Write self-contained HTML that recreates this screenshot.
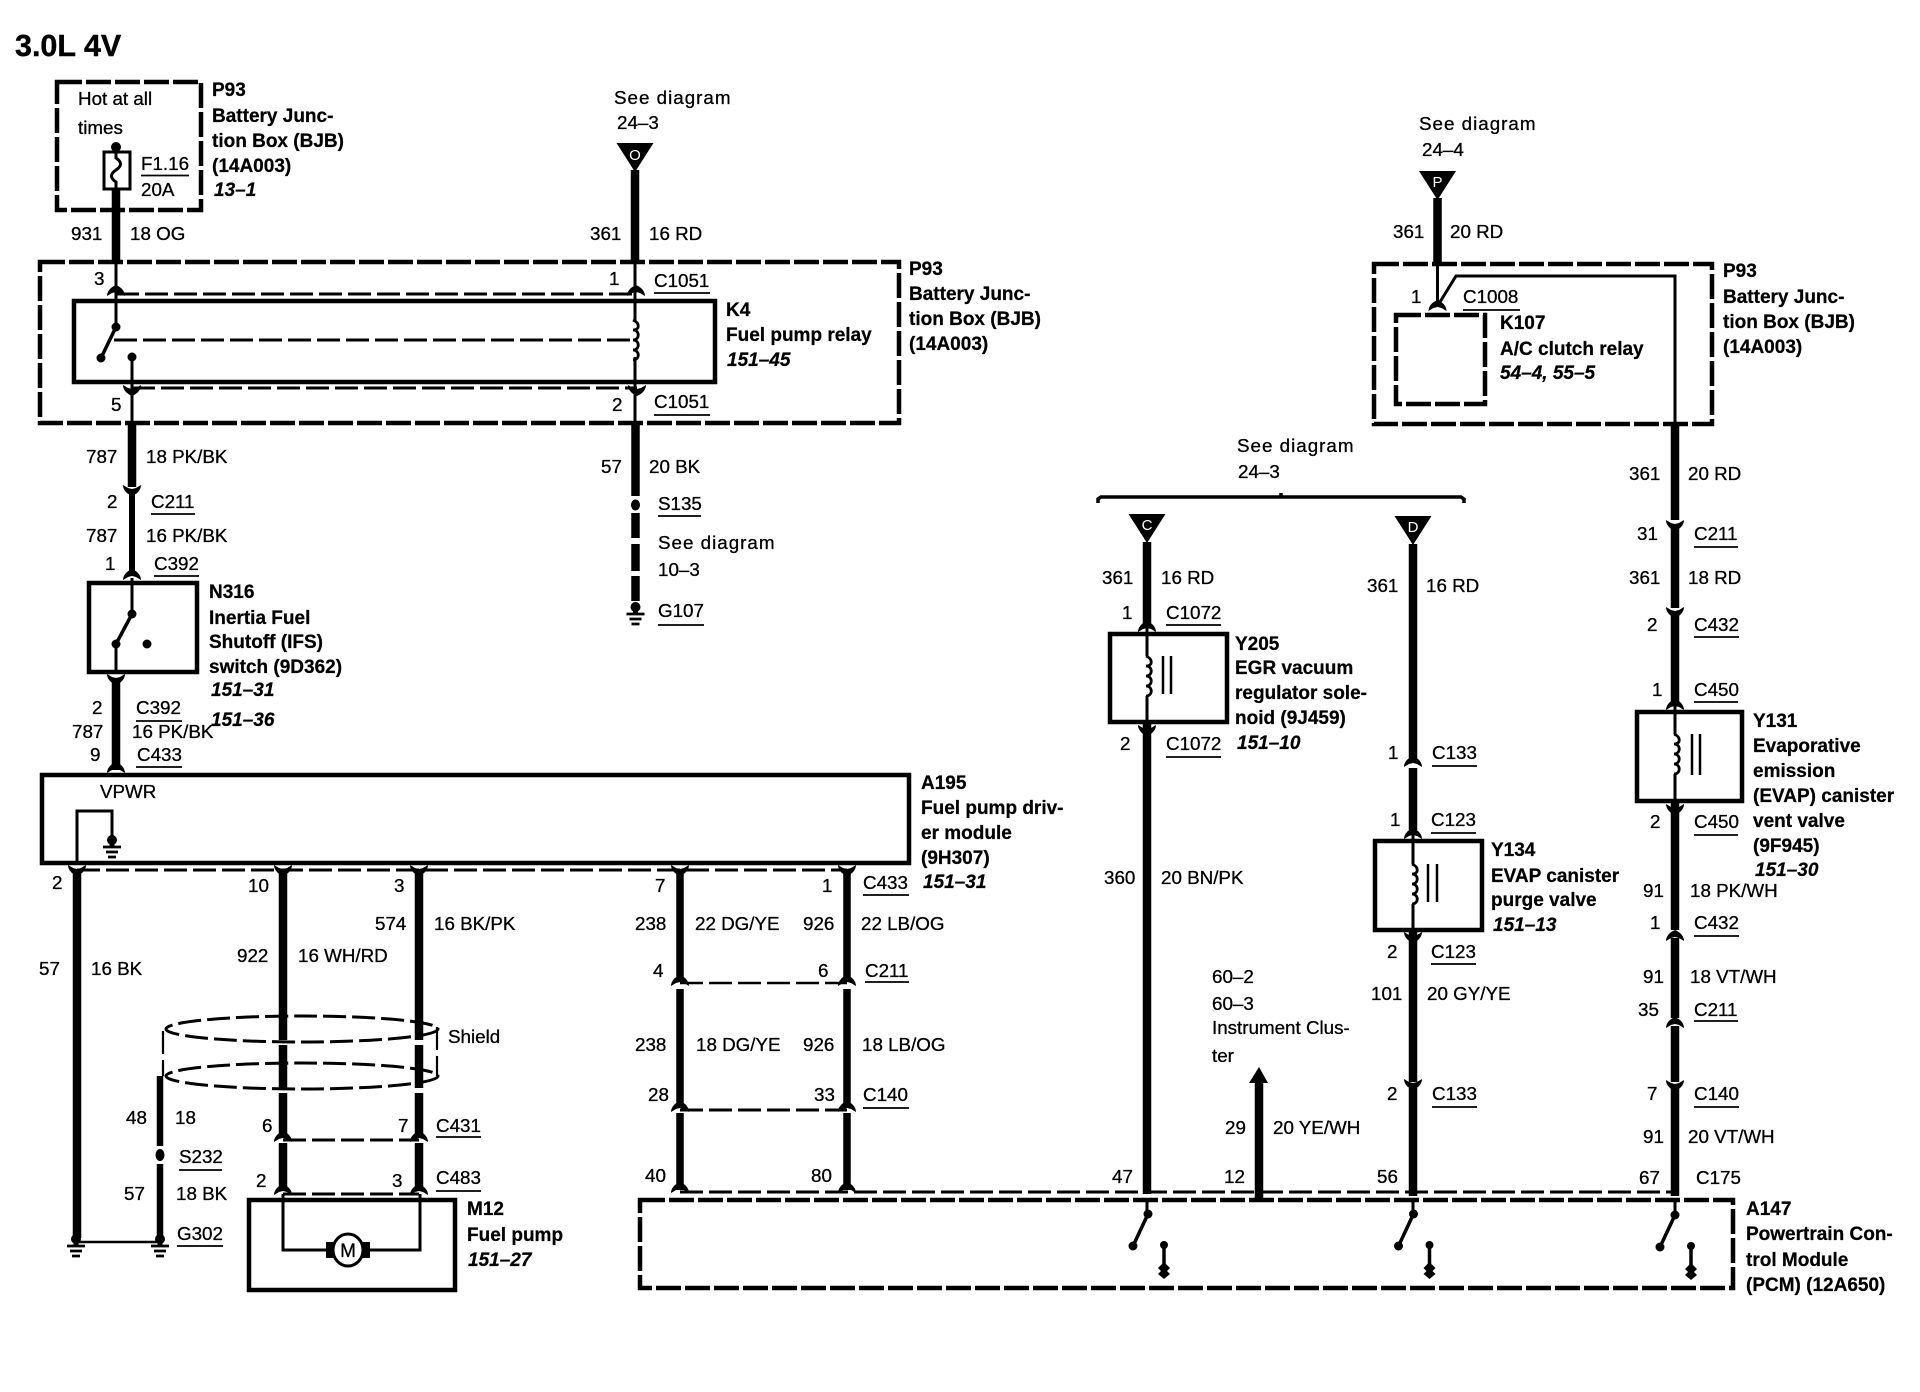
<!DOCTYPE html>
<html><head><meta charset="utf-8"><title>3.0L 4V</title>
<style>
html,body{margin:0;padding:0;background:#fff}
svg{display:block}
text{font-family:"Liberation Sans",sans-serif;font-size:18.8px;fill:#000;stroke:#000;stroke-width:.3px}
.b{font-weight:bold;font-size:19px;stroke-width:.25px}
.i{font-weight:bold;font-style:italic;font-size:19px;stroke-width:.25px}
.w{fill:#fff;stroke:none;font-size:15px;text-anchor:middle}
.h{font-weight:bold;font-size:30.5px;stroke-width:.4px}
.s{letter-spacing:1px}
.wire{stroke:#000;fill:none;stroke-width:8.5}
.w6{stroke:#000;fill:none;stroke-width:7.5}
.thin{stroke:#000;fill:none;stroke-width:3}
.box{stroke:#000;fill:none;stroke-width:4.5}
.dash{stroke:#000;fill:none;stroke-width:4.5;stroke-dasharray:25 4}
.dash2{stroke:#000;fill:none;stroke-width:3;stroke-dasharray:23 6}
.ul{stroke:#000;fill:none;stroke-width:1.8}
</style></head><body>
<svg width="1920" height="1392" viewBox="0 0 1920 1392" xmlns="http://www.w3.org/2000/svg">
<defs>
<path id="up" d="M-9,5 C-9,0 -5,-4 0,-6 C5,-4 9,0 9,5 L4,2 L0,1 L-4,2z" fill="#000"/>
<path id="dn" d="M-9,-5 C-9,0 -5,4 0,6 C5,4 9,0 9,-5 L4,-2 L0,-1 L-4,-2z" fill="#000"/>
<g id="gnd"><path d="M0,-8V2" stroke="#000" stroke-width="5"/><circle cy="-4" r="5" fill="#000"/><path d="M-9,3H9M-6,8H6M-4,13H4" stroke="#000" stroke-width="2.8"/></g>
<path id="coil" d="M0,0 c7,3 7,10 0,10 c7,0 7,10 0,10 c7,0 7,10 0,10 c7,0 7,10 0,10" fill="none" stroke="#000" stroke-width="2.8"/>
<g id="pcmsw"><circle r="4.5" fill="#000"/><path d="M0,0L-15,32" stroke="#000" stroke-width="3.5"/><circle cx="-15" cy="32" r="4.5" fill="#000"/><circle cx="16" cy="31" r="4" fill="#000"/><path d="M16,31V56" stroke="#000" stroke-width="3.5"/><path d="M10,54L16,48L22,54L19,57L22,60L16,65L10,60L13,57z" fill="#000"/></g>
<g id="tri"><path d="M-18.5,0H18.5L0,29z" fill="#000"/></g>
</defs>
<rect width="1920" height="1392" fill="#fff"/>

<text class="h" x="15" y="56">3.0L 4V</text>

<!-- top left fuse box -->
<rect class="dash" x="57" y="82" width="144" height="128"/>
<rect class="thin" x="104" y="152" width="26" height="37"/>
<circle cx="116" cy="147" r="5" fill="#000"/>
<path class="thin" d="M116,147V158c6,4 6,8 0,12c-6,4 -6,8 0,12V189"/>
<path class="wire" d="M116,189V261"/>
<path class="ul" d="M141,175.500H189"/>
<text x="78" y="105">Hot at all</text><text x="78" y="134">times</text>
<text x="141" y="170">F1.16</text><text x="141" y="196">20A</text>
<text class="b" x="212" y="96">P93</text><text class="b" x="212" y="122">Battery Junc-</text><text class="b" x="212" y="147">tion Box (BJB)</text><text class="b" x="212" y="172">(14A003)</text><text class="i" x="214" y="196">13–1</text>
<text class="s" x="614" y="104">See diagram</text><text x="617" y="129">24–3</text>
<use href="#tri" x="635" y="143"/><text class="w" x="635" y="160">O</text>
<path class="wire" d="M635,170V261"/>
<text x="71" y="240">931</text><text x="130" y="240">18 OG</text><text x="590" y="240">361</text><text x="649" y="240">16 RD</text>

<!-- relay K4 -->
<rect class="dash" x="40" y="262" width="859" height="161"/>
<rect class="box" x="74" y="301" width="641" height="81"/>
<path class="thin" d="M116,261V327M635,261V321M635,357V423M132,357V423"/>
<use href="#up" x="116" y="291"/><use href="#up" x="636" y="291"/>
<path class="dash2" d="M116,294H635M132,388H637"/>
<use href="#dn" x="132" y="390"/><use href="#dn" x="637" y="390"/>
<circle cx="116" cy="327" r="4.500" fill="#000"/><circle cx="101" cy="358" r="4.500" fill="#000"/><circle cx="132" cy="357" r="4.500" fill="#000"/>
<path d="M116,327L101,358" stroke="#000" stroke-width="3.5"/>
<path class="dash2" d="M114,340H631"/>
<use href="#coil" x="633" y="320"/>
<text x="94" y="285">3</text><text x="609" y="285">1</text><text x="654" y="287">C1051</text><path class="ul" d="M654,293H710M654,415H710"/>
<text x="111" y="411">5</text><text x="612" y="411">2</text><text x="654" y="408">C1051</text>
<text class="b" x="726" y="316">K4</text><text class="b" x="726" y="341">Fuel pump relay</text><text class="i" x="727" y="366">151–45</text>
<text class="b" x="909" y="275">P93</text><text class="b" x="909" y="300">Battery Junc-</text><text class="b" x="909" y="325">tion Box (BJB)</text><text class="b" x="909" y="350">(14A003)</text>

<!-- 787 run -->
<path class="wire" d="M132,423V487"/><use href="#dn" x="132" y="490"/>
<path class="w6" style="stroke-width:6" d="M132,490V574"/><use href="#up" x="132" y="575"/>
<text x="86" y="463">787</text><text x="146" y="463">18 PK/BK</text>
<text x="107" y="508">2</text><text x="151" y="508">C211</text><path class="ul" d="M151,514H195M154,576H199"/>
<text x="86" y="542">787</text><text x="146" y="542">16 PK/BK</text>
<text x="105" y="570">1</text><text x="154" y="570">C392</text>
<rect class="box" x="89" y="583" width="108" height="89"/>
<path class="thin" d="M132,578V614M116,644V672"/><path d="M132,614L116,644" stroke="#000" stroke-width="3.5"/>
<circle cx="132" cy="614" r="4.500" fill="#000"/><circle cx="116" cy="644" r="4.500" fill="#000"/><circle cx="147" cy="644" r="4.500" fill="#000"/>
<text class="b" x="209" y="598">N316</text><text class="b" x="209" y="624">Inertia Fuel</text><text class="b" x="209" y="648">Shutoff (IFS)</text><text class="b" x="209" y="673">switch (9D362)</text><text class="i" x="211" y="696">151–31</text><text class="i" x="211" y="726">151–36</text>
<use href="#dn" x="116" y="679"/><path class="wire" d="M116,678V770"/><use href="#up" x="116" y="768"/>
<text x="92" y="714">2</text><text x="136" y="714">C392</text><path class="ul" d="M136,721H182M136,767H182"/>
<text x="72" y="738">787</text><text x="132" y="738">16 PK/BK</text><text x="90" y="761">9</text><text x="137" y="761">C433</text>

<!-- A195 -->
<rect class="box" x="42" y="775" width="867" height="88"/>
<text x="100" y="798">VPWR</text>
<path class="thin" d="M77,863V811H112V842"/><use href="#gnd" x="112" y="844"/>
<text class="b" x="921" y="789">A195</text><text class="b" x="921" y="814">Fuel pump driv-</text><text class="b" x="921" y="839">er module</text><text class="b" x="921" y="864">(9H307)</text><text class="i" x="923" y="888">151–31</text>
<path class="dash2" d="M77,870H847"/>
<use href="#dn" x="77" y="870"/><use href="#dn" x="283" y="870"/><use href="#dn" x="419" y="870"/><use href="#dn" x="680" y="870"/><use href="#dn" x="847" y="870"/>
<path class="wire" d="M77,870V1238"/>
<path class="wire" d="M283,870V1040M283,1045V1088M283,1093V1134M283,1143V1190"/>
<path class="wire" d="M419,870V1040M419,1045V1088M419,1093V1134M419,1143V1190"/>
<path class="w6" d="M680,870V978M680,989V1103M680,1113V1190"/>
<path class="w6" d="M847,870V978M847,989V1103M847,1113V1190"/>
<use href="#up" x="680" y="981"/><use href="#up" x="847" y="981"/><use href="#up" x="680" y="1107"/><use href="#up" x="847" y="1107"/>
<use href="#up" x="283" y="1137"/><use href="#up" x="419" y="1137"/><use href="#up" x="283" y="1190"/><use href="#up" x="419" y="1190"/><use href="#up" x="680" y="1188"/><use href="#up" x="847" y="1188"/>
<path class="dash2" style="stroke-width:2.4" d="M680,983H847"/><path class="dash2" d="M680,1110H847M283,1140H419M283,1194H419"/>
<text x="52" y="889">2</text><text x="248" y="892">10</text><text x="394" y="892">3</text><text x="655" y="892">7</text><text x="822" y="892">1</text><text x="863" y="889">C433</text><path class="ul" d="M863,895H909M865,982H909M863,1108H909M436,1137H481M436,1191H481M179,1170H222M177,1246H223"/>
<text x="375" y="930">574</text><text x="434" y="930">16 BK/PK</text><text x="635" y="930">238</text><text x="695" y="930">22 DG/YE</text><text x="803" y="930">926</text><text x="861" y="930">22 LB/OG</text>
<text x="237" y="962">922</text><text x="298" y="962">16 WH/RD</text><text x="39" y="975">57</text><text x="91" y="975">16 BK</text>
<text x="653" y="977">4</text><text x="818" y="977">6</text><text x="865" y="977">C211</text>
<text x="635" y="1051">238</text><text x="696" y="1051">18 DG/YE</text><text x="803" y="1051">926</text><text x="862" y="1051">18 LB/OG</text>
<text x="648" y="1101">28</text><text x="814" y="1101">33</text><text x="863" y="1101">C140</text>
<text x="645" y="1182">40</text><text x="811" y="1182">80</text>

<!-- shield -->
<ellipse class="dash2" cx="302" cy="1029" rx="136" ry="13"/>
<ellipse class="dash2" cx="302" cy="1076" rx="136" ry="13"/>
<path class="dash2" style="stroke-width:2.2" d="M163,1031V1076M437,1027V1076"/>
<text x="448" y="1043">Shield</text>
<path class="w6" style="stroke-width:6.5" d="M160,1076V1146M160,1164V1238"/><ellipse cx="160" cy="1155" rx="4.500" ry="6" fill="#000"/>
<text x="126" y="1124">48</text><text x="175" y="1124">18</text><text x="179" y="1163">S232</text><text x="124" y="1200">57</text><text x="176" y="1200">18 BK</text><text x="177" y="1240">G302</text>
<path d="M75,1242H160" stroke="#000" stroke-width="2.5"/>
<use href="#gnd" x="76" y="1243"/><use href="#gnd" x="160" y="1243"/>
<text x="262" y="1132">6</text><text x="398" y="1132">7</text><text x="436" y="1132">C431</text><text x="256" y="1187">2</text><text x="392" y="1187">3</text><text x="436" y="1184">C483</text>

<!-- M12 -->
<rect class="box" x="249" y="1200" width="206" height="90"/>
<path class="thin" d="M283,1194V1250H326M420,1194V1250H370"/>
<rect x="326" y="1242" width="9" height="16" fill="#000"/><rect x="361" y="1242" width="9" height="16" fill="#000"/>
<ellipse cx="348" cy="1250" rx="15" ry="16" fill="#fff" stroke="#000" stroke-width="3"/>
<text x="348" y="1257" style="text-anchor:middle;font-size:19px">M</text>
<text class="b" x="467" y="1215">M12</text><text class="b" x="467" y="1241">Fuel pump</text><text class="i" x="468" y="1266">151–27</text>

<!-- 57 / G107 -->
<path class="wire" d="M635.500,423V496M635.500,513V538M635.500,544V571M635.500,576V601"/>
<ellipse cx="635.500" cy="505" rx="4.500" ry="5.500" fill="#000"/>
<use href="#gnd" x="635.500" y="611"/>
<text x="601" y="473">57</text><text x="649" y="473">20 BK</text><text x="658" y="510">S135</text><path class="ul" d="M658,516H701M658,625H704"/>
<text class="s" x="658" y="549">See diagram</text><text x="658" y="576">10–3</text><text x="658" y="617">G107</text>

<!-- PCM -->
<rect class="dash" x="640" y="1200" width="1093" height="88"/>
<path class="dash2" d="M680,1192H1676"/>
<path class="thin" d="M1147,1199V1214M1413,1199V1214M1675,1199V1214"/>
<use href="#pcmsw" x="1148" y="1214"/><use href="#pcmsw" x="1413.500" y="1214"/><use href="#pcmsw" x="1675" y="1215"/>
<text class="b" x="1746" y="1215">A147</text><text class="b" x="1746" y="1240">Powertrain Con-</text><text class="b" x="1746" y="1266">trol Module</text><text class="b" x="1746" y="1291">(PCM) (12A650)</text>
<text x="1112" y="1183">47</text><text x="1224" y="1183">12</text><text x="1377" y="1183">56</text><text x="1639" y="1184">67</text><text x="1696" y="1184">C175</text>

<!-- upper right P93 -->
<text class="s" x="1419" y="130">See diagram</text><text x="1422" y="156">24–4</text>
<use href="#tri" x="1437.500" y="171"/><text class="w" x="1437.500" y="187">P</text>
<path class="wire" d="M1437.500,198V263"/>
<text x="1393" y="238">361</text><text x="1450" y="238">20 RD</text>
<rect class="dash" x="1374" y="264" width="338" height="160"/>
<rect class="dash" x="1396" y="315" width="89" height="89"/>
<path class="thin" d="M1437.500,263V305M1437.500,306L1456,276H1675V424"/>
<use href="#up" x="1437.500" y="306"/>
<text x="1411" y="303">1</text><text x="1463" y="303">C1008</text><path class="ul" d="M1463,310H1520"/>
<text class="b" x="1500" y="329">K107</text><text class="b" x="1500" y="355">A/C clutch relay</text><text class="i" x="1500" y="379">54–4, 55–5</text>
<text class="b" x="1723" y="277">P93</text><text class="b" x="1723" y="303">Battery Junc-</text><text class="b" x="1723" y="328">tion Box (BJB)</text><text class="b" x="1723" y="353">(14A003)</text>

<!-- brace -->
<text class="s" x="1237" y="452">See diagram</text><text x="1238" y="478">24–3</text>
<path d="M1098,503V499L1101,497H1461L1464,499V503M1281,497V493" fill="none" stroke="#000" stroke-width="3.5"/>
<use href="#tri" x="1147" y="514"/><text class="w" x="1147" y="530">C</text>
<use href="#tri" x="1413" y="516"/><text class="w" x="1413" y="532">D</text>

<!-- C column -->
<path class="wire" d="M1147,542V625M1147,722V1194"/>
<use href="#up" x="1147" y="627"/><use href="#dn" x="1147" y="730"/>
<rect class="box" x="1110" y="634" width="117" height="88"/>
<path class="thin" d="M1147,627V656M1147,696V722"/><use href="#coil" x="1146" y="656"/>
<path d="M1163,656V694M1171,656V694" stroke="#000" stroke-width="2.5"/>
<text x="1102" y="584">361</text><text x="1161" y="584">16 RD</text><text x="1122" y="619">1</text><text x="1166" y="619">C1072</text><path class="ul" d="M1166,625H1221M1166,757H1221"/>
<text x="1120" y="750">2</text><text x="1166" y="750">C1072</text>
<text x="1104" y="884">360</text><text x="1161" y="884">20 BN/PK</text>
<text class="b" x="1235" y="650">Y205</text><text class="b" x="1235" y="674">EGR vacuum</text><text class="b" x="1235" y="699">regulator sole-</text><text class="b" x="1235" y="724">noid (9J459)</text><text class="i" x="1237" y="749">151–10</text>

<!-- instrument cluster arrow -->
<text x="1212" y="983">60–2</text><text x="1212" y="1010">60–3</text><text x="1212" y="1034">Instrument Clus-</text><text x="1212" y="1062">ter</text>
<path d="M1259,1067L1268,1083H1249z" fill="#000"/><path class="wire" d="M1259,1082V1198"/>
<text x="1225" y="1134">29</text><text x="1273" y="1134">20 YE/WH</text>

<!-- D column -->
<path class="wire" d="M1413,544V760M1413,768V830M1413,930V1082M1413,1088V1196"/>
<use href="#up" x="1413" y="762"/><use href="#up" x="1413" y="834"/><use href="#dn" x="1413" y="937"/><use href="#dn" x="1413" y="1084"/>
<rect class="box" x="1375" y="841" width="107" height="89"/>
<path class="thin" d="M1413,834V864M1413,904V930"/><use href="#coil" x="1412" y="864"/>
<path d="M1428,864V902M1437,864V902" stroke="#000" stroke-width="2.5"/>
<text x="1367" y="592">361</text><text x="1426" y="592">16 RD</text><text x="1388" y="759">1</text><text x="1432" y="759">C133</text><path class="ul" d="M1432,766H1477M1431,833H1476M1431,964H1476M1432,1107H1477"/>
<text x="1390" y="826">1</text><text x="1431" y="826">C123</text><text x="1387" y="958">2</text><text x="1431" y="958">C123</text>
<text x="1371" y="1000">101</text><text x="1427" y="1000">20 GY/YE</text><text x="1387" y="1100">2</text><text x="1432" y="1100">C133</text>
<text class="b" x="1491" y="856">Y134</text><text class="b" x="1491" y="882">EVAP canister</text><text class="b" x="1491" y="906">purge valve</text><text class="i" x="1493" y="931">151–13</text>

<!-- right column -->
<path class="wire" d="M1675,424V520M1675,527V608M1675,614V702M1675,801V930M1675,938V1018M1675,1026V1082M1675,1088V1196"/>
<use href="#dn" x="1675" y="525"/><use href="#dn" x="1675" y="612"/><use href="#up" x="1675" y="705"/><use href="#dn" x="1675" y="809"/><use href="#up" x="1675" y="936"/><use href="#up" x="1675" y="1023"/><use href="#dn" x="1675" y="1085"/>
<rect class="box" x="1637" y="712" width="105" height="89"/>
<path class="thin" d="M1675,705V734M1675,774V801"/><use href="#coil" x="1674" y="734"/>
<path d="M1692,734V775M1700,734V775" stroke="#000" stroke-width="2.5"/>
<text x="1629" y="480">361</text><text x="1688" y="480">20 RD</text><text x="1637" y="540">31</text><text x="1694" y="540">C211</text><text x="1629" y="584">361</text><text x="1688" y="584">18 RD</text><text x="1647" y="631">2</text><text x="1694" y="631">C432</text><text x="1652" y="696">1</text><text x="1694" y="696">C450</text>
<path class="ul" d="M1694,547H1738M1694,637H1739M1694,702H1738M1694,835H1738M1694,936H1739M1694,1021H1738M1694,1107H1739"/>
<text x="1650" y="828">2</text><text x="1694" y="828">C450</text><text x="1643" y="897">91</text><text x="1690" y="897">18 PK/WH</text><text x="1650" y="929">1</text><text x="1694" y="929">C432</text>
<text x="1643" y="983">91</text><text x="1690" y="983">18 VT/WH</text><text x="1638" y="1016">35</text><text x="1694" y="1016">C211</text><text x="1647" y="1100">7</text><text x="1694" y="1100">C140</text><text x="1643" y="1143">91</text><text x="1688" y="1143">20 VT/WH</text>
<text class="b" x="1753" y="727">Y131</text><text class="b" x="1753" y="752">Evaporative</text><text class="b" x="1753" y="777">emission</text><text class="b" x="1753" y="802">(EVAP) canister</text><text class="b" x="1753" y="827">vent valve</text><text class="b" x="1753" y="852">(9F945)</text><text class="i" x="1755" y="876">151–30</text>
</svg>
</body></html>
